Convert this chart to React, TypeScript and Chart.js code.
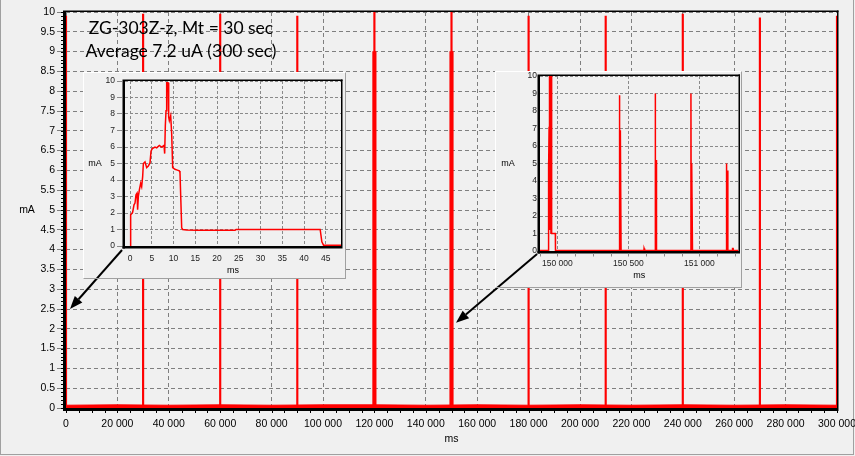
import React, { useEffect, useRef } from "react";
import { Chart, registerables } from "chart.js";

Chart.register(...registerables);

// ---------- Main chart: 300 s record ----------
const mainXTicks = [0, 20000, 40000, 60000, 80000, 100000, 120000, 140000, 160000, 180000, 200000, 220000, 240000, 260000, 280000, 300000];
const mainYTicks = [0, 0.5, 1, 1.5, 2, 2.5, 3, 3.5, 4, 4.5, 5, 5.5, 6, 6.5, 7, 7.5, 8, 8.5, 9, 9.5, 10];
const spikeMs = [0, 30000, 60000, 90000, 120000, 150000, 180000, 210000, 240000, 270000, 300000];
const spikeMa = [9.9, 9.95, 9.95, 9.9, 10, 10, 9.9, 9.9, 9.95, 9.85, 9.9];
const burstMs = [120000, 150000];
const burstMa = [9.0, 9.0];
const idleMs = [0, 20000, 40000, 60000, 80000, 100000, 120000, 140000, 160000, 180000, 200000, 220000, 240000, 260000, 280000, 300000];
const idleMa = [0.07, 0.08, 0.07, 0.08, 0.07, 0.08, 0.08, 0.07, 0.08, 0.07, 0.08, 0.07, 0.08, 0.07, 0.08, 0.07];

// ---------- Left inset: one pulse, 0..48 ms ----------
const leftXTicks = [0, 5, 10, 15, 20, 25, 30, 35, 40, 45];
const leftYTicks = [0, 1, 2, 3, 4, 5, 6, 7, 8, 9, 10];
const pulseMs = [0, 0.15, 0.38, 0.61, 0.92, 1.15, 1.38, 1.62, 1.75, 1.92, 2.15, 2.45, 2.68, 2.91, 3.07, 3.45, 3.83, 4.21, 4.6, 4.83, 5.13, 5.75, 6.13, 6.74, 7.28, 7.82, 7.97, 8.12, 8.28, 8.43, 8.74, 8.89, 9.04, 9.35, 9.58, 9.81, 10.34, 10.88, 11.34, 11.49, 11.88, 12.11, 13.03, 15.3, 24.16, 24.39, 43.71, 44.1, 44.48, 48.5];
const pulseMa = [0, 1.9, 1.95, 2.05, 2.5, 2.6, 3.1, 3.2, 2.2, 3.0, 3.4, 3.8, 3.6, 4.2, 5.0, 5.1, 4.75, 4.85, 5.05, 5.75, 5.9, 6.0, 5.95, 6.1, 6.0, 6.1, 5.6, 7.3, 8.2, 9.9, 9.9, 7.8, 7.6, 7.9, 6.8, 4.75, 4.65, 4.6, 4.55, 4.45, 1.1, 1.0, 0.97, 0.95, 0.95, 1.0, 1.0, 0.25, 0.05, 0.05];

// ---------- Right inset: around 150 000 ms ----------
const rightXTicks = [150000, 150500, 151000];
const rightYTicks = [0, 1, 2, 3, 4, 5, 6, 7, 8, 9, 10];
const zoomMs = [
  149878, 149936, 149937, 149940, 149942, 149943, 149944, 149948, 149951, 149955, 149958, 149960, 149986, 149987,
  150437, 150438, 150439, 150443, 150444, 150449,
  150610, 150611, 150615, 150616,
  150689, 150690, 150691, 150695, 150696, 150701,
  150940, 150941, 150942, 150946, 150947, 150952,
  151189, 151190, 151191, 151195, 151196, 151201,
  151233, 151234, 151238, 151239,
  151276,
];
const zoomMa = [
  0.03, 0.03, 5.1, 4.6, 7.1, 4.4, 10, 1.2, 10, 1.0, 10, 1.0, 1.0, 0.03,
  0.03, 8.9, 6.9, 0.03, 6.9, 0.03,
  0.03, 0.15, 0.15, 0.03,
  0.03, 9.0, 5.2, 0.03, 5.2, 0.03,
  0.03, 9.0, 5.0, 0.03, 5.0, 0.03,
  0.03, 5.0, 4.6, 0.03, 4.6, 0.03,
  0.03, 0.15, 0.15, 0.03,
  0.03,
];

const titleLines = ["ZG-303Z-z, Mt = 30 sec", "Average 7.2 uA (300 sec)"];
// arrows, in main-chart units (ms, mA)
const arrowFromMs = [21800, 183300];
const arrowFromMa = [3.99, 3.89];
const arrowToMs = [1550, 151750];
const arrowToMa = [2.5, 2.15];

const FONT = "'Liberation Sans', Arial, sans-serif";
const RED = "#ff0000";
const GRID = "#7f7f7f";

const fmtThousands = (v: number) => String(v).replace(/\B(?=(\d{3})+(?!\d))/g, " ");

function drawFrame(ctx: CanvasRenderingContext2D, a: any, thick: number, thin: number) {
  ctx.save();
  ctx.fillStyle = "#000";
  ctx.fillRect(a.left - thick, a.top - thin, thick, a.bottom - a.top + thin + thick);
  ctx.fillRect(a.left - thick, a.bottom, a.right - a.left + thick + thin, thick);
  ctx.fillRect(a.left, a.top - thin, a.right - a.left + thin, thin);
  ctx.fillRect(a.right, a.top - thin, thin, a.bottom - a.top + thin);
  ctx.restore();
}

function drawArrow(ctx: CanvasRenderingContext2D, x1: number, y1: number, x2: number, y2: number) {
  const ang = Math.atan2(y2 - y1, x2 - x1);
  const headLen = 13;
  const headW = 5;
  const bx = x2 - headLen * Math.cos(ang);
  const by = y2 - headLen * Math.sin(ang);
  ctx.save();
  ctx.strokeStyle = "#000";
  ctx.lineWidth = 2;
  ctx.beginPath();
  ctx.moveTo(x1, y1);
  ctx.lineTo(bx, by);
  ctx.stroke();
  ctx.fillStyle = "#000";
  ctx.beginPath();
  ctx.moveTo(x2, y2);
  ctx.lineTo(bx + headW * Math.sin(ang), by - headW * Math.cos(ang));
  ctx.lineTo(bx - headW * Math.sin(ang), by + headW * Math.cos(ang));
  ctx.closePath();
  ctx.fill();
  ctx.restore();
}

function text(ctx: CanvasRenderingContext2D, s: string, x: number, y: number, font: string, align: CanvasTextAlign = "center", base: CanvasTextBaseline = "middle") {
  ctx.save();
  ctx.fillStyle = "#000";
  ctx.font = font;
  ctx.textAlign = align;
  ctx.textBaseline = base;
  ctx.fillText(s, x, y);
  ctx.restore();
}

type ArrowPx = { x1: number; y1: number; x2: number; y2: number };

function insetOptions(cfg: {
  xMin: number; xMax: number; xTicks: number[]; yTicks: number[];
  yWidth: number; xHeight: number; padTop: number; padRight: number;
  yTickLen: number; yPad: number; xPad: number; xFmt: (v: number) => string;
}) {
  return {
    responsive: false,
    animation: false as const,
    devicePixelRatio: 1,
    layout: { padding: { top: cfg.padTop, right: cfg.padRight, left: 0, bottom: 0 } },
    plugins: { legend: { display: false }, tooltip: { enabled: false } },
    scales: {
      x: {
        type: "linear" as const,
        min: cfg.xMin,
        max: cfg.xMax,
        offset: false,
        afterBuildTicks: (s: any) => { s.ticks = cfg.xTicks.map((v) => ({ value: v })); },
        afterFit: (s: any) => { s.height = cfg.xHeight; s.paddingLeft = 0; s.paddingRight = 0; },
        ticks: { autoSkip: false, maxRotation: 0, color: "#222", padding: cfg.xPad, font: { family: FONT, size: 8.5 }, callback: (v: any) => cfg.xFmt(Number(v)) },
        grid: { color: "#8a8a8a", drawTicks: false, offset: false },
        border: { display: false, dash: [3, 2] },
      },
      y: {
        type: "linear" as const,
        min: 0,
        max: 10,
        afterBuildTicks: (s: any) => { s.ticks = cfg.yTicks.map((v) => ({ value: v })); },
        afterFit: (s: any) => { s.width = cfg.yWidth; s.paddingTop = 0; s.paddingBottom = 0; },
        ticks: { color: "#222", padding: cfg.yPad, font: { family: FONT, size: 8.5 }, callback: (v: any) => String(v) },
        grid: { color: "#8a8a8a", drawTicks: cfg.yTickLen > 0, tickLength: cfg.yTickLen, tickColor: "#8a8a8a", tickBorderDash: [5, 10] },
        border: { display: false, dash: [3, 2] },
      },
    },
  };
}

export default function App() {
  const mainRef = useRef<HTMLCanvasElement>(null);
  const leftRef = useRef<HTMLCanvasElement>(null);
  const rightRef = useRef<HTMLCanvasElement>(null);

  useEffect(() => {
    const shared: { arrows: ArrowPx[] } = { arrows: [] };

    const mainDecor = {
      id: "mainDecor",
      beforeDatasetsDraw(chart: any) {
        const ctx = chart.ctx as CanvasRenderingContext2D;
        const a = chart.chartArea;
        drawFrame(ctx, a, 3, 1.5);
        const xs = chart.scales.x;
        const ys = chart.scales.y;
        ctx.save();
        ctx.fillStyle = "#000";
        for (let v = 0; v <= 300000; v += 5000) {
          ctx.fillRect(Math.round(xs.getPixelForValue(v)), a.bottom + 3, 1, 2);
        }
        for (let k = 0; k <= 100; k++) {
          ctx.fillRect(a.left - 5, Math.round(ys.getPixelForValue(k / 10)), 2, 1);
        }
        ctx.restore();
      },
      afterDraw(chart: any) {
        const ctx = chart.ctx as CanvasRenderingContext2D;
        const a = chart.chartArea;
        text(ctx, titleLines[0], a.left + 115, a.top + 21.5, "17.5px Lato", "center", "alphabetic");
        text(ctx, titleLines[1], a.left + 115, a.top + 44.5, "17.5px Lato", "center", "alphabetic");
        text(ctx, "mA", a.left - 39, (a.top + a.bottom) / 2, `10.5px ${FONT}`);
        text(ctx, "ms", (a.left + a.right) / 2, a.bottom + 31, `10.5px ${FONT}`);
        const xs = chart.scales.x;
        const ys = chart.scales.y;
        for (let i = 0; i < arrowFromMs.length; i++) {
          drawArrow(ctx, xs.getPixelForValue(arrowFromMs[i]), ys.getPixelForValue(arrowFromMa[i]), xs.getPixelForValue(arrowToMs[i]), ys.getPixelForValue(arrowToMa[i]));
        }
      },
    };

    const main = new Chart(mainRef.current!, {
      type: "bar",
      data: {
        datasets: [
          {
            type: "line",
            data: idleMs.map((x, i) => ({ x, y: idleMa[i] })),
            borderColor: RED,
            backgroundColor: RED,
            borderWidth: 1,
            pointRadius: 0,
            fill: "origin",
            order: 3,
          } as any,
          {
            type: "bar",
            data: spikeMs.map((x, i) => ({ x, y: spikeMa[i] })),
            backgroundColor: RED,
            barThickness: 1.5,
            grouped: false,
            order: 2,
          } as any,
          {
            type: "bar",
            data: burstMs.map((x, i) => ({ x, y: burstMa[i] })),
            backgroundColor: RED,
            barThickness: 3.5,
            grouped: false,
            order: 1,
          } as any,
        ],
      },
      options: {
        responsive: false,
        animation: false,
        devicePixelRatio: 1,
        layout: { padding: { top: 12, right: 18, left: 0, bottom: 0 } },
        plugins: { legend: { display: false }, tooltip: { enabled: false } },
        scales: {
          x: {
            type: "linear",
            min: 0,
            max: 300000,
            offset: false,
            afterBuildTicks: (s: any) => { s.ticks = mainXTicks.map((v) => ({ value: v })); },
            afterFit: (s: any) => { s.height = 48; s.paddingLeft = 0; s.paddingRight = 0; },
            ticks: { autoSkip: false, maxRotation: 0, color: "#000", padding: 10, font: { family: FONT, size: 10.5 }, callback: (v: any) => fmtThousands(Number(v)) },
            grid: { color: GRID, drawTicks: false, offset: false },
            border: { display: false, dash: [4, 3] },
          },
          y: {
            type: "linear",
            min: 0,
            max: 10,
            afterBuildTicks: (s: any) => { s.ticks = mainYTicks.map((v) => ({ value: v })); },
            afterFit: (s: any) => { s.width = 66; s.paddingTop = 0; s.paddingBottom = 0; },
            ticks: { color: "#000", padding: 2, font: { family: FONT, size: 10.5 }, callback: (v: any) => String(v) },
            grid: { color: GRID, tickLength: 9, tickColor: GRID, tickBorderDash: [6, 10] },
            border: { display: false, dash: [4, 3] },
          },
        },
      } as any,
      plugins: [mainDecor],
    });

    const mxs = main.scales.x;
    const mys = main.scales.y;
    shared.arrows = arrowFromMs.map((_, i) => ({
      x1: mxs.getPixelForValue(arrowFromMs[i]),
      y1: mys.getPixelForValue(arrowFromMa[i]),
      x2: mxs.getPixelForValue(arrowToMs[i]),
      y2: mys.getPixelForValue(arrowToMa[i]),
    }));

    const insetDecor = (id: string, offX: number, offY: number, minorStep: number, minorFrom: number, minorTo: number) => ({
      id,
      beforeDatasetsDraw(chart: any) {
        const ctx = chart.ctx as CanvasRenderingContext2D;
        const a = chart.chartArea;
        drawFrame(ctx, a, 2.5, 1.5);
        if (minorStep > 0) {
          const xs = chart.scales.x;
          ctx.save();
          ctx.fillStyle = "#8a8a8a";
          for (let v = minorFrom; v <= minorTo; v += minorStep) {
            ctx.fillRect(Math.round(xs.getPixelForValue(v)), a.bottom + 2.5, 1, 3);
          }
          ctx.restore();
        }
      },
      afterDraw(chart: any) {
        const ctx = chart.ctx as CanvasRenderingContext2D;
        const a = chart.chartArea;
        text(ctx, "mA", a.left - (id === "leftDecor" ? 30 : 32), (a.top + a.bottom) / 2, `9px ${FONT}`);
        text(ctx, "ms", (a.left + a.right) / 2, a.bottom + 25, `9px ${FONT}`);
        ctx.save();
        ctx.translate(-offX, -offY);
        for (const ar of shared.arrows) drawArrow(ctx, ar.x1, ar.y1, ar.x2, ar.y2);
        ctx.restore();
      },
    });

    const left = new Chart(leftRef.current!, {
      type: "line",
      data: {
        datasets: [
          {
            data: pulseMs.map((x, i) => ({ x, y: pulseMa[i] })),
            borderColor: RED,
            borderWidth: 1.5,
            pointRadius: 0,
            tension: 0,
            fill: false,
          },
        ],
      },
      options: insetOptions({
        xMin: -1.15, xMax: 48.5, xTicks: leftXTicks, yTicks: leftYTicks,
        yWidth: 41, xHeight: 32, padTop: 8, padRight: 4,
        yTickLen: 8, yPad: 2, xPad: 8, xFmt: (v) => String(v),
      }) as any,
      plugins: [insetDecor("leftDecor", 84, 73, 0, 0, 0)],
    });

    const right = new Chart(rightRef.current!, {
      type: "line",
      data: {
        datasets: [
          {
            data: zoomMs.map((x, i) => ({ x, y: zoomMa[i] })),
            borderColor: RED,
            borderWidth: 1.5,
            pointRadius: 0,
            tension: 0,
            fill: false,
          },
        ],
      },
      options: insetOptions({
        xMin: 149878, xMax: 151276, xTicks: rightXTicks, yTicks: rightYTicks,
        yWidth: 44, xHeight: 36, padTop: 4, padRight: 2.5,
        yTickLen: 0, yPad: 3, xPad: 7.5, xFmt: fmtThousands,
      }) as any,
      plugins: [insetDecor("rightDecor", 496, 72, 125, 149875, 151276)],
    });

    return () => {
      main.destroy();
      left.destroy();
      right.destroy();
    };
  }, []);

  const boxStyle = (l: number, t: number, w: number, h: number): React.CSSProperties => ({
    position: "absolute",
    left: l,
    top: t,
    width: w,
    height: h,
    boxSizing: "border-box",
    background: "#f0f0f0",
    borderTop: "1px solid #ffffff",
    borderLeft: "1px solid #ffffff",
    borderRight: "1px solid #a0a0a0",
    borderBottom: "1px solid #a0a0a0",
  });

  return (
    <div style={{ position: "absolute", left: 0, top: 0, width: 855, height: 456, background: "#f0f0f0", overflow: "hidden" }}>
      <div style={{ position: "absolute", left: 0, top: 0, width: 854, height: 455, boxSizing: "border-box", borderLeft: "1px solid #a0a0a0", borderRight: "1px solid #a0a0a0", borderBottom: "1px solid #a0a0a0" }} />
      <canvas ref={mainRef} width={855} height={456} style={{ position: "absolute", left: 0, top: 0, width: 855, height: 456 }} />
      <div style={boxStyle(83, 72, 263, 207)}>
        <canvas ref={leftRef} width={261} height={205} style={{ display: "block", width: 261, height: 205 }} />
      </div>
      <div style={boxStyle(495, 71, 247, 217)}>
        <canvas ref={rightRef} width={245} height={215} style={{ display: "block", width: 245, height: 215 }} />
      </div>
    </div>
  );
}
